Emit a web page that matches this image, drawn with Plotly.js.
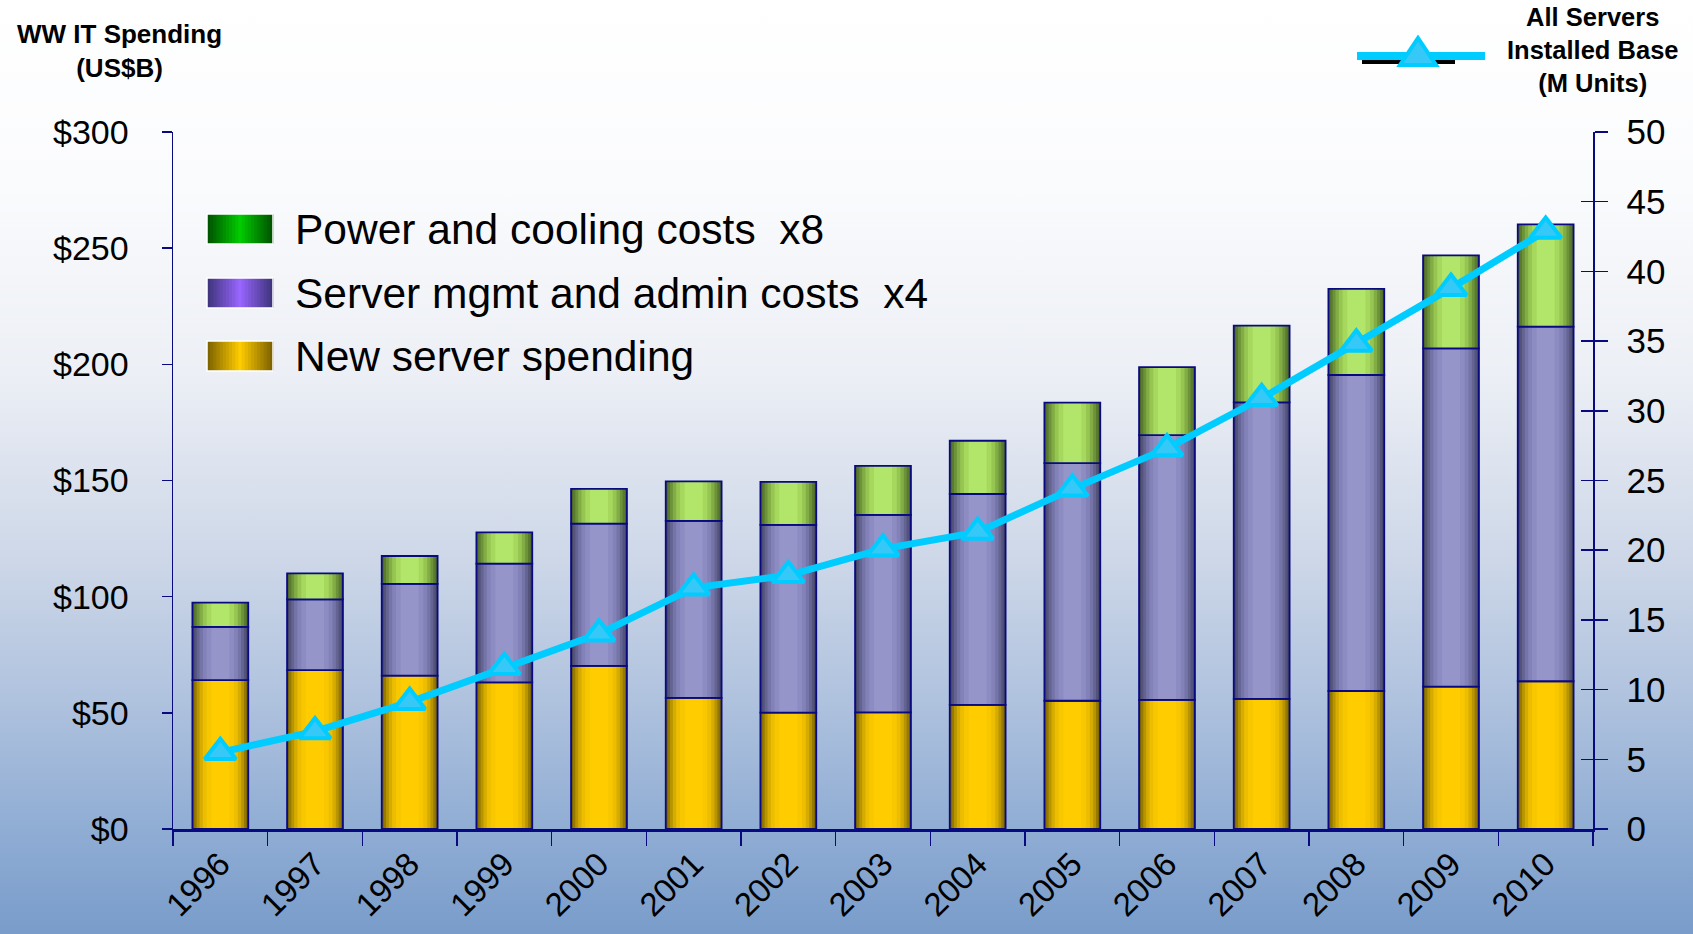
<!DOCTYPE html>
<html>
<head>
<meta charset="utf-8">
<script src="https://cdn.plot.ly/plotly-3.0.1.min.js"></script>
<style>
  html, body { margin: 0; padding: 0; }
  body {
    width: 1693px; height: 934px; overflow: hidden;
    background: linear-gradient(to bottom, #ffffff 0%, #fafbfd 20%, #eceff5 40%, #cdd7e8 60%, #afc2de 75%, #8dabd3 90%, #799cca 100%);
  }
  #chart { width: 1693px; height: 934px; }
</style>
</head>
<body>
<div id="chart"></div>
<script>
// ---- Data ----
const years = ['1996','1997','1998','1999','2000','2001','2002','2003','2004','2005','2006','2007','2008','2009','2010'];
const newServerSpending = [64.1, 68.4, 66.0, 63.1, 70.2, 56.4, 50.1, 50.2, 53.4, 55.2, 55.6, 56.0, 59.4, 61.3, 63.6];
const mgmtAdminCosts    = [22.9, 30.4, 39.5, 51.1, 61.2, 76.2, 80.8, 85.0, 90.8, 102.3, 113.9, 127.6, 136.0, 145.6, 152.6];
const powerCoolingCosts = [10.4, 11.2, 12.0, 13.5, 15.0, 17.0, 18.5, 21.1, 22.9, 26.0, 29.3, 33.1, 37.1, 40.0, 44.0];
const serversInstalledBase = [5.5, 7.0, 9.1, 11.6, 14.0, 17.3, 18.2, 20.1, 21.3, 24.4, 27.3, 30.9, 34.8, 38.8, 42.9];

const legendLabels = ['Power and cooling costs  x8', 'Server mgmt and admin costs  x4', 'New server spending'];
const leftTitle = 'WW IT Spending<br>(US$B)';
const rightTitle = 'All Servers<br>Installed Base<br>(M Units)';

// ---- Styles ----
const NAVY = '#0a0a80';
const FONT = '"Liberation Sans", Arial, Helvetica, sans-serif';
const layerWidths = [0.59, 0.55, 0.50, 0.44, 0.37, 0.29, 0.19];
const palettes = {
  new:   ['#766000', '#967a00', '#b89500', '#d6ac00', '#ecbd00', '#f8c700', '#ffcc00'],
  mgmt:  ['#434366', '#53537c', '#646493', '#7474a8', '#8282b8', '#8c8cc2', '#9595ca'],
  power: ['#4b6628', '#5a7a30', '#6c923a', '#82ad45', '#96c552', '#a6d85d', '#b2e66a']
};

// cumulative bases
const baseNew = newServerSpending.map(() => 0);
const baseMgmt = newServerSpending.map(v => v);
const basePower = newServerSpending.map((v, i) => v + mgmtAdminCosts[i]);

const traces = [];
function addSeries(vals, base, pal) {
  layerWidths.forEach((w, k) => {
    traces.push({
      type: 'bar', x: years, y: vals, base: base, width: w,
      marker: { color: pal[k], line: { width: 0 } },
      showlegend: false, hoverinfo: 'skip'
    });
  });
  traces.push({
    type: 'bar', x: years, y: vals, base: base, width: layerWidths[0],
    marker: { color: 'rgba(0,0,0,0)', line: { color: NAVY, width: 1.8 } },
    showlegend: false, hoverinfo: 'skip'
  });
}
addSeries(newServerSpending, baseNew, palettes.new);
addSeries(mgmtAdminCosts, baseMgmt, palettes.mgmt);
addSeries(powerCoolingCosts, basePower, palettes.power);

traces.push({
  type: 'scatter', mode: 'lines+markers', x: years, y: serversInstalledBase, yaxis: 'y2',
  line: { color: '#00ccff', width: 7 },
  marker: { symbol: 'triangle-up', size: 27, color: '#36c8f7', line: { color: '#00ccff', width: 4 } },
  showlegend: false, hoverinfo: 'skip'
});
// helper trace so the inner tick marks of the right axis are drawn
traces.push({ type: 'scatter', mode: 'markers', x: years, y: serversInstalledBase, yaxis: 'y3',
  marker: { size: 1, color: 'rgba(0,0,0,0)' }, showlegend: false, hoverinfo: 'skip' });

// ---- pixel -> paper helpers for legend decorations ----
const L = 173, R = 1593, T = 132, B = 829;
const px = p => (p - L) / (R - L);
const py = p => (B - p) / (B - T);

const shapes = [];
const annotations = [];

// legend swatches with gradient stripes (edge -> centre -> edge)
function ramp(c0, c1, n) {
  const h = s => [1, 3, 5].map(i => parseInt(s.substr(i, 2), 16));
  const a = h(c0), b = h(c1);
  const out = [];
  for (let k = 0; k < n; k++) {
    const t = n === 1 ? 0 : k / (n - 1);
    out.push('rgb(' + a.map((v, j) => Math.round(v + (b[j] - v) * t)).join(',') + ')');
  }
  return out;
}
const swatchEnds = [['#005500', '#00cc00'], ['#40357e', '#9966ff'], ['#806400', '#ffcc00']];
const rowCenters = [229, 293, 356];
rowCenters.forEach((cy, r) => {
  const x0 = 207, x1 = 273, h = 30;
  const half = ramp(swatchEnds[r][0], swatchEnds[r][1], 11);
  const cols = half.concat(half.slice(0, -1).reverse());
  const n = cols.length;
  const sw = (x1 - x0) / n;
  cols.forEach((c, k) => {
    shapes.push({ type: 'rect', xref: 'paper', yref: 'paper', layer: 'above',
      x0: px(x0 + k * sw), x1: px(x0 + (k + 1) * sw + 0.8), y0: py(cy + h / 2), y1: py(cy - h / 2),
      fillcolor: c, line: { width: 0 } });
  });
  shapes.push({ type: 'rect', xref: 'paper', yref: 'paper', layer: 'above',
    x0: px(x0), x1: px(x1), y0: py(cy + h / 2), y1: py(cy - h / 2),
    fillcolor: 'rgba(0,0,0,0)', line: { color: '#ffffff', width: 1.5 } });
  annotations.push({ xref: 'paper', yref: 'paper', x: px(293), y: py(cy), xanchor: 'left', yanchor: 'middle',
    text: legendLabels[r], showarrow: false, font: { family: FONT, size: 42.5, color: '#000000' } });
});

// line legend (top right)
shapes.push({ type: 'line', xref: 'paper', yref: 'paper', x0: px(1362), x1: px(1455), y0: py(62), y1: py(62), line: { color: '#000000', width: 4 } });
shapes.push({ type: 'line', xref: 'paper', yref: 'paper', x0: px(1357), x1: px(1485), y0: py(56), y1: py(56), line: { color: '#00ccff', width: 8 } });
shapes.push({ type: 'path', xref: 'paper', yref: 'paper',
  path: `M ${px(1400)},${py(65)} L ${px(1436)},${py(65)} L ${px(1418)},${py(38)} Z`,
  fillcolor: '#36c8f7', line: { color: '#00ccff', width: 4 } });

annotations.push({ xref: 'paper', yref: 'paper', x: px(119), y: py(51), xanchor: 'center', yanchor: 'middle',
  text: '<b>' + leftTitle.split('<br>').join('</b><br><b>') + '</b>', showarrow: false, align: 'center',
  font: { family: FONT, size: 26, color: '#000000' } });
annotations.push({ xref: 'paper', yref: 'paper', x: px(1593), y: py(50), xanchor: 'center', yanchor: 'middle',
  text: '<b>' + rightTitle.split('<br>').join('</b><br><b>') + '</b>', showarrow: false, align: 'center',
  font: { family: FONT, size: 25.5, color: '#000000' } });

const layout = {
  width: 1693, height: 934,
  margin: { l: L, r: 1693 - R, t: T, b: 934 - B, pad: 0 },
  paper_bgcolor: 'rgba(0,0,0,0)', plot_bgcolor: 'rgba(0,0,0,0)',
  barmode: 'overlay',
  font: { family: FONT, color: '#000000' },
  showlegend: false,
  xaxis: {
    type: 'category', range: [-0.5, 14.5], automargin: false,
    showline: true, linecolor: NAVY, linewidth: 2.5, mirror: false,
    ticks: 'outside', ticklen: 14, tickwidth: 1.5, tickcolor: NAVY, tickson: 'boundaries',
    tickangle: -45, ticklabelstandoff: 0, tickfont: { family: FONT, size: 33, color: '#000000' },
    showgrid: false, zeroline: false, fixedrange: true
  },
  yaxis: {
    range: [0, 300], dtick: 50, tickprefix: '$', automargin: false,
    showline: true, linecolor: NAVY, linewidth: 1.5,
    ticks: 'outside', ticklen: 10, tickwidth: 1.5, tickcolor: NAVY, ticklabelstandoff: 26,
    tickfont: { family: FONT, size: 34, color: '#000000' },
    showgrid: false, zeroline: false, fixedrange: true
  },
  yaxis2: {
    overlaying: 'y', side: 'right', anchor: 'x', range: [0, 50], dtick: 5, automargin: false,
    showline: true, linecolor: NAVY, linewidth: 1.5,
    ticks: 'outside', ticklen: 13, tickwidth: 1.5, tickcolor: NAVY, ticklabelstandoff: 12,
    tickfont: { family: FONT, size: 35, color: '#000000' },
    showgrid: false, zeroline: false, fixedrange: true
  },
  yaxis3: {
    overlaying: 'y', side: 'right', anchor: 'x', range: [0, 50], dtick: 5, automargin: false,
    showline: false, showticklabels: false,
    ticks: 'inside', ticklen: 12, tickwidth: 1.5, tickcolor: NAVY,
    showgrid: false, zeroline: false, fixedrange: true
  },
  shapes: shapes,
  annotations: annotations
};

Plotly.newPlot('chart', traces, layout, { displayModeBar: false, staticPlot: true });
</script>
</body>
</html>
